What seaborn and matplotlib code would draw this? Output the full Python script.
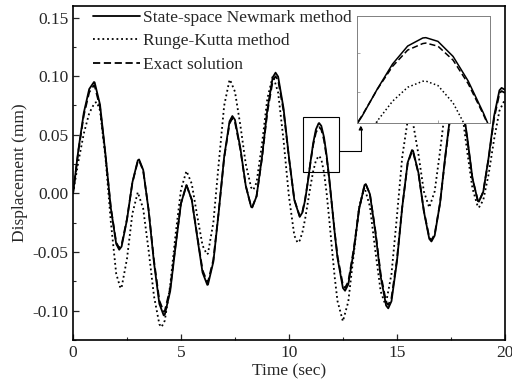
import pandas as pd
import seaborn as sns
import matplotlib.pyplot as plt
from matplotlib.ticker import MultipleLocator, FormatStrFormatter
from matplotlib.patches import Rectangle

# sample times (finer around the zoomed peak)
time = [0, 0.25, 0.5, 0.75, 1.0, 1.25, 1.5, 1.75, 2.0, 2.25, 2.5, 2.75, 3.0, 3.25, 3.5, 3.75,
        4.0, 4.25, 4.5, 4.75, 5.0, 5.25, 5.5, 5.75, 6.0, 6.25, 6.5, 6.75, 7.0, 7.25, 7.5, 7.75,
        8.0, 8.25, 8.5, 8.75, 9.0, 9.25, 9.5, 9.75, 10.0, 10.25, 10.5,
        10.625, 10.75, 10.875, 11.0, 11.125, 11.25, 11.375, 11.5, 11.625, 11.75, 11.875, 12.0,
        12.125, 12.25,
        12.5, 12.75, 13.0, 13.25, 13.5, 13.75, 14.0, 14.25, 14.5, 14.75, 15.0, 15.25, 15.5, 15.75,
        16.0, 16.25, 16.5, 16.75, 17.0, 17.25, 17.5, 17.75, 18.0, 18.25, 18.5, 18.75, 19.0, 19.25,
        19.5, 19.75, 20.0]

newmark = [0.0, 0.0374, 0.0688, 0.0890, 0.0948, 0.0758, 0.0340, -0.0123, -0.0430, -0.0453, -0.0224,
           0.0094, 0.0282, 0.0201, -0.0142, -0.0590, -0.0942, -0.1034, -0.0835, -0.0452, -0.0087,
           0.0070, -0.0055, -0.0368, -0.0675, -0.0778, -0.0583, -0.0157, 0.0311, 0.0615, 0.0628,
           0.0388, 0.0067, -0.0115, -0.0025, 0.0306, 0.0713, 0.0990, 0.0996, 0.0727, 0.0312, -0.0055,
           -0.0200,
           -0.0162, -0.0057, 0.0096, 0.0270, 0.0430, 0.0546, 0.0598, 0.0576, 0.0479, 0.0320, 0.0115,
           -0.0115, -0.0345, -0.0550,
           -0.0806, -0.0776, -0.0493, -0.0135, 0.0071, -0.0005, -0.0323, -0.0709, -0.0956, -0.0919,
           -0.0585, -0.0115, 0.0263, 0.0364, 0.0175, -0.0153, -0.0387, -0.0360, -0.0083, 0.0331,
           0.0708, 0.0894, 0.0807, 0.0491, 0.0130, -0.0064, 0.0014, 0.0307, 0.0658, 0.0879, 0.0885]

runge_kutta = [0.0, 0.0273, 0.0511, 0.0684, 0.0772, 0.0708, 0.0315, -0.0239, -0.0684, -0.0802, -0.0557,
               -0.0172, 0.0010, -0.0130, -0.0483, -0.0876, -0.1116, -0.1085, -0.0786, -0.0350, 0.0032,
               0.0190, 0.0082, -0.0189, -0.0444, -0.0512, -0.0249, 0.0258, 0.0748, 0.0969, 0.0868,
               0.0582, 0.0253, 0.0050, 0.0092, 0.0417, 0.0808, 0.0999, 0.0860, 0.0455, -0.0025, -0.0359,
               -0.0402,
               -0.0331, -0.0218, -0.0079, 0.0064, 0.0190, 0.0280, 0.0319, 0.0291, 0.0179, -0.0004, -0.0236,
               -0.0486, -0.0722, -0.0918,
               -0.1090, -0.0923, -0.0520, -0.0117, 0.0050, -0.0110, -0.0486, -0.0836, -0.0933, -0.0687,
               -0.0200, 0.0315, 0.0621, 0.0598, 0.0332, 0.0017, -0.0120, 0.0017, 0.0360, 0.0742,
               0.0977, 0.0957, 0.0720, 0.0367, 0.0044, -0.0115, -0.0058, 0.0164, 0.0459, 0.0705, 0.0800]

exact = [0.0, 0.0363, 0.0667, 0.0863, 0.0920, 0.0735, 0.0330, -0.0119, -0.0417, -0.0439, -0.0217,
         0.0091, 0.0274, 0.0195, -0.0138, -0.0572, -0.0914, -0.1003, -0.0810, -0.0438, -0.0084,
         0.0068, -0.0053, -0.0357, -0.0655, -0.0755, -0.0566, -0.0152, 0.0302, 0.0597, 0.0609,
         0.0376, 0.0065, -0.0112, -0.0024, 0.0297, 0.0692, 0.0960, 0.0966, 0.0705, 0.0303, -0.0053,
         -0.0194,
         -0.0155, -0.0050, 0.0100, 0.0268, 0.0415, 0.0520, 0.0562, 0.0545, 0.0455, 0.0303, 0.0105,
         -0.0115, -0.0338, -0.0535,
         -0.0782, -0.0753, -0.0478, -0.0131, 0.0069, -0.0005, -0.0313, -0.0688, -0.0927, -0.0891,
         -0.0567, -0.0112, 0.0255, 0.0353, 0.0170, -0.0148, -0.0375, -0.0349, -0.0081, 0.0321,
         0.0687, 0.0867, 0.0783, 0.0476, 0.0126, -0.0062, 0.0014, 0.0298, 0.0638, 0.0853, 0.0858]

# turning points
newmark_peak_t = [0.97, 2.14, 3.06, 4.2, 5.26, 6.22, 7.38, 8.3, 9.38, 11.4, 12.6, 13.56, 14.6,
                  15.7, 16.6, 17.8, 18.8, 19.85]
newmark_peak_y = [0.095, -0.048, 0.029, -0.104, 0.007, -0.078, 0.066, -0.012, 0.103, 0.060, -0.083,
                  0.008, -0.098, 0.037, -0.041, 0.090, -0.007, 0.090]
exact_peak_y = [0.0922, -0.0466, 0.0281, -0.1009, 0.0068, -0.0757, 0.0640, -0.0116, 0.0999, 0.0565,
                -0.0805, 0.0078, -0.0951, 0.0359, -0.0398, 0.0873, -0.0068, 0.0873]
rk_peak_t = [1.1, 2.2, 4.1, 5.26, 6.2, 7.27, 8.35, 9.27, 10.4, 11.4, 14.45, 15.6, 17.6, 18.8]
rk_peak_y = [0.078, -0.081, -0.114, 0.019, -0.052, 0.097, 0.003, 0.100, -0.042, 0.032, -0.094,
             0.065, 0.100, -0.012]

labels = ["State-space Newmark method", "Runge-Kutta method", "Exact solution"]

frames = []
for name, vals, pt, pv in [(labels[0], newmark, newmark_peak_t, newmark_peak_y),
                           (labels[1], runge_kutta, rk_peak_t, rk_peak_y),
                           (labels[2], exact, newmark_peak_t, exact_peak_y)]:
    frames.append(pd.DataFrame({"t": time + pt, "d": vals + pv, "method": name}))
data = pd.concat(frames, ignore_index=True)

sns.set_style("ticks")
plt.rcParams["font.family"] = ["Liberation Serif", "DejaVu Serif"]
plt.rcParams["axes.unicode_minus"] = False
plt.rcParams["xtick.direction"] = "in"
plt.rcParams["ytick.direction"] = "in"

palette = {l: "black" for l in labels}
dashes = {labels[0]: "", labels[1]: (1, 1.6), labels[2]: (4, 2)}

fig = plt.figure(figsize=(5.12, 3.89), dpi=100)
ax = fig.add_axes([0.1426, 0.126, 0.8434, 0.859])
sns.lineplot(data=data, x="t", y="d", hue="method", style="method", hue_order=labels,
             style_order=labels, palette=palette, dashes=dashes, estimator=None, sort=True,
             linewidth=1.3, ax=ax)

ax.set_xlim(0, 20)
ax.set_ylim(-0.125, 0.16)
ax.xaxis.set_major_locator(MultipleLocator(5))
ax.xaxis.set_minor_locator(MultipleLocator(2.5))
ax.yaxis.set_major_locator(MultipleLocator(0.05))
ax.yaxis.set_minor_locator(MultipleLocator(0.025))
ax.yaxis.set_major_formatter(FormatStrFormatter("%.2f"))
ax.tick_params(which="major", length=4, width=0.9, labelsize=12.5, top=False, right=False)
ax.tick_params(which="minor", length=2, width=0.8, top=False, right=False)
for s in ax.spines.values():
    s.set_linewidth(1.2)
    s.set_color("black")
ax.set_xlabel("Time (sec)", fontsize=12.5, labelpad=2)
ax.set_ylabel("Displacement (mm)", fontsize=12.5, labelpad=3)

handles, _ = ax.get_legend_handles_labels()
ax.legend(handles[-3:], labels, loc="upper left", bbox_to_anchor=(0.046, 0.988), frameon=False,
          fontsize=12.5, handlelength=2.7, handletextpad=0.18, labelspacing=0.42,
          borderpad=0, borderaxespad=0)

# zoom box and connector
ax.add_patch(Rectangle((10.63, 0.018), 1.68, 0.047, fill=False, lw=0.8, ec="black"))
ax.annotate("", xy=(13.33, 0.058), xytext=(12.31, 0.036),
            arrowprops=dict(arrowstyle="-|>", lw=0.8, color="black", mutation_scale=6,
                            shrinkA=0, shrinkB=0,
                            connectionstyle="angle,angleA=0,angleB=90,rad=0"))

axins = fig.add_axes([0.697, 0.684, 0.260, 0.275])
axins.set_zorder(5)
sns.lineplot(data=data, x="t", y="d", hue="method", style="method", hue_order=labels,
             style_order=labels, palette=palette, dashes=dashes, estimator=None, sort=True,
             linewidth=1.1, ax=axins, legend=False)
axins.set_xlim(10.83, 11.93)
axins.set_ylim(0.005, 0.074)
axins.set_xlabel("")
axins.set_ylabel("")
axins.set_xticklabels([])
axins.set_yticklabels([])
axins.tick_params(length=2, width=0.5, colors="gray")
for s in axins.spines.values():
    s.set_linewidth(0.7)
    s.set_color("gray")

fig.savefig("out.png", dpi=100)
